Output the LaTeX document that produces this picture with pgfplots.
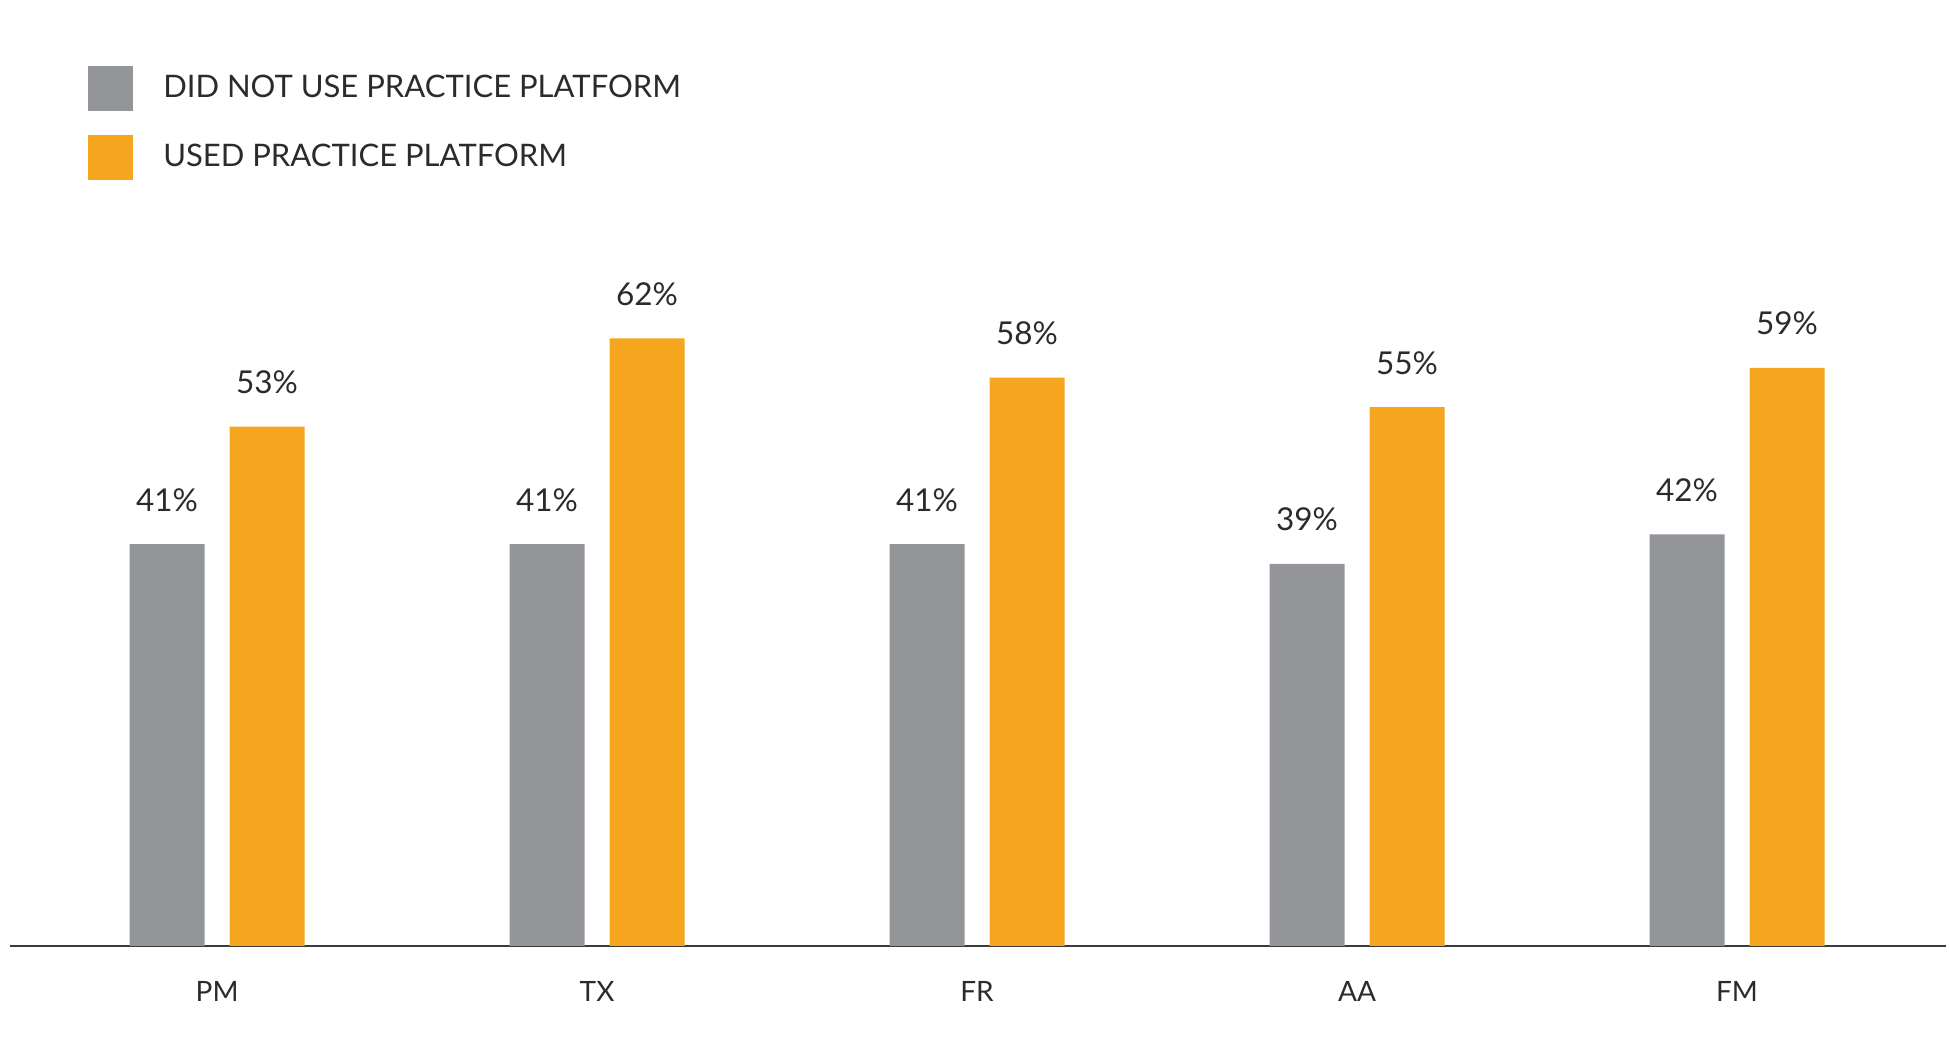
\documentclass[border=0pt]{standalone}
\usepackage{pgfplots}
\pgfplotsset{compat=1.18}
\usepackage{fontspec}
\setmainfont{Lato}

\definecolor{notused}{HTML}{939598}
\definecolor{used}{HTML}{F6A61E}
\definecolor{ink}{HTML}{2B2B2B}
\definecolor{baseline}{HTML}{3A3A3A}

\begin{document}
\begin{tikzpicture}
\useasboundingbox (-4bp,-37.6bp) rectangle (776bp,378.4bp);
\begin{axis}[
    scale only axis,
    width=774.4bp,
    height=274.4bp,
    xmin=-0.545, xmax=4.55,
    ymin=0, ymax=70,
    ybar=10bp,
    bar width=30bp,
    axis x line*=bottom,
    axis y line=none,
    x axis line style={-, draw=baseline, line width=1.1bp},
    xtick=data,
    xticklabels={PM,TX,FR,AA,FM},
    major tick length=0pt,
    xticklabel style={anchor=base, yshift=-22.3bp, inner sep=0pt, text=ink,
        font=\fontsize{11.2bp}{13bp}\selectfont},
    nodes near coords={\pgfmathprintnumber[assume math mode=true]{\pgfplotspointmeta}\%},
    every node near coord/.append style={anchor=base, yshift=13.2bp, inner sep=0pt,
        text=ink, font=\fontsize{12.6bp}{14bp}\selectfont},
    legend style={at={(axis description cs:0.0403,1.2828)}, anchor=north west,
        draw=none, fill=none, inner sep=0pt, outer sep=0pt,
        row sep=9.9bp, text=ink,
        nodes={inner sep=0pt, outer sep=0pt},
        font=\fontsize{12.4bp}{14bp}\selectfont,
        /tikz/every odd column/.append style={column sep=12.3bp}},
    legend cell align=left,
    legend image code/.code={\fill[#1] (0bp,-8.9bp) rectangle (17.8bp,8.9bp);},
]
\addplot[fill=notused, draw=none] coordinates {(0,41) (1,41) (2,41) (3,39) (4,42)};
\addplot[fill=used, draw=none] coordinates {(0,53) (1,62) (2,58) (3,55) (4,59)};
\legend{DID NOT USE PRACTICE PLATFORM, USED PRACTICE PLATFORM}
\end{axis}
\end{tikzpicture}
\end{document}
